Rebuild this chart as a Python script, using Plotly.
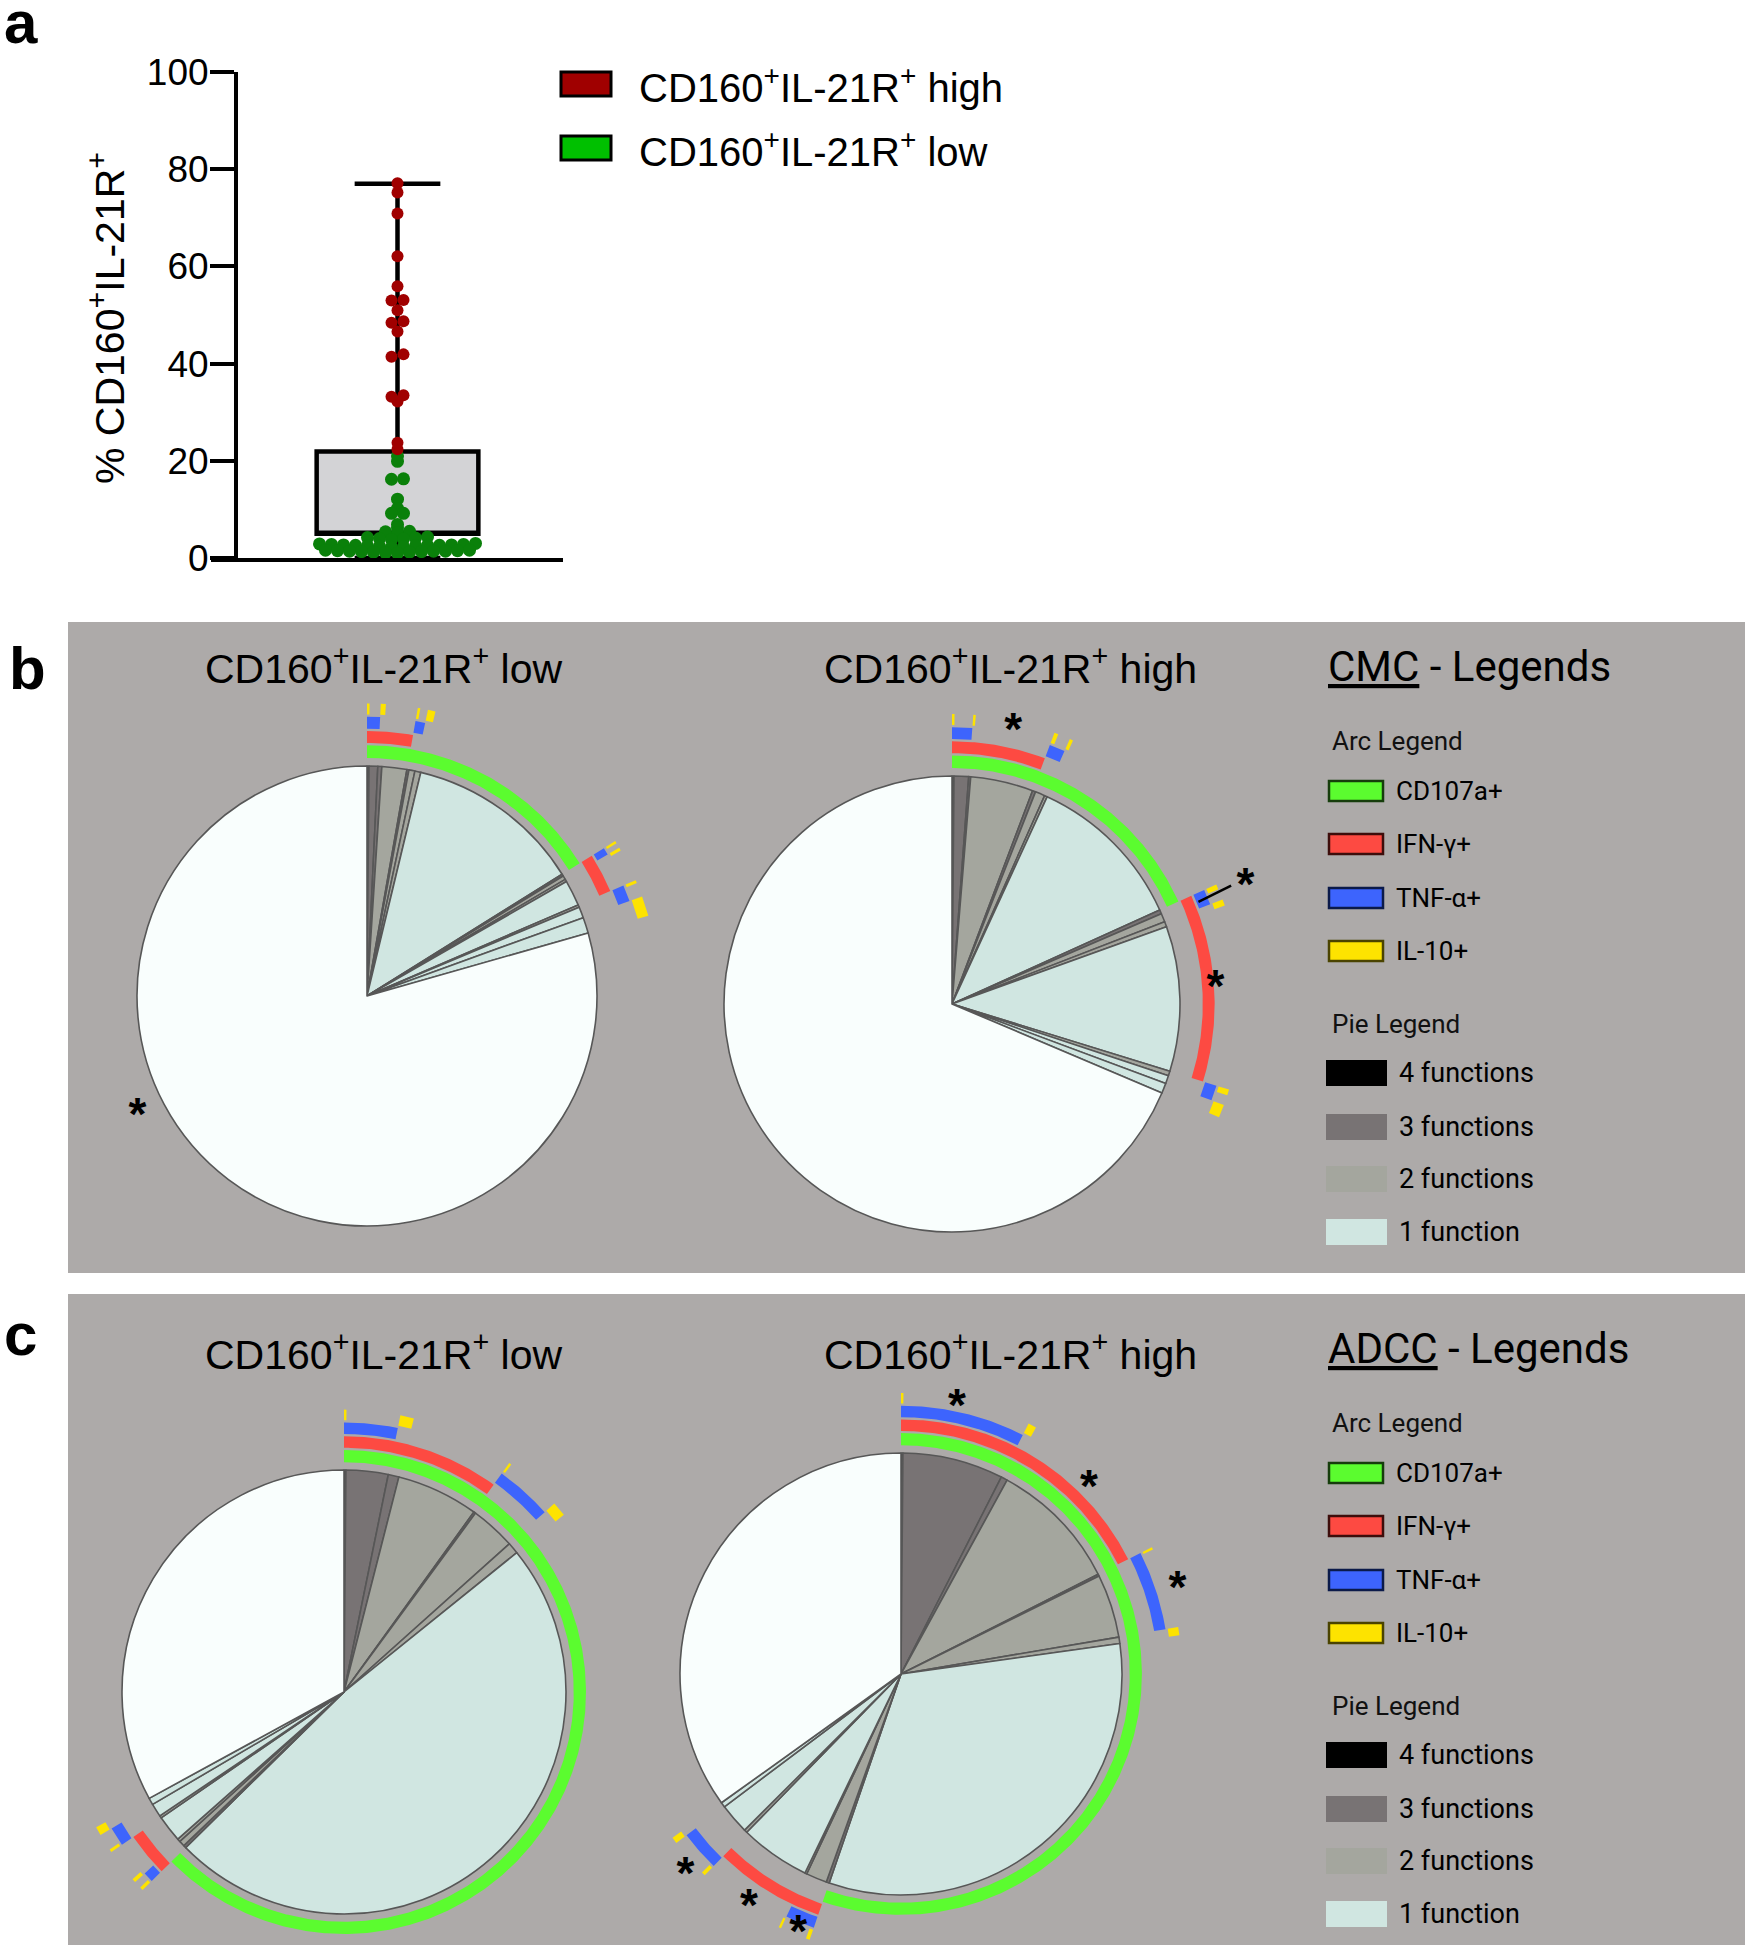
import numpy as np
import plotly.graph_objects as go

W, H = 1750, 1950

# ---------------- data: panel a ----------------
high_values = [77.1, 75.2, 70.9, 62.1, 55.9, 53.1, 53.0, 51.0, 48.4, 48.7, 46.6,
               41.4, 41.9, 33.2, 33.5, 32.2, 23.7, 22.4]
low_values = [21.0, 19.9, 16.3, 16.2, 12.1, 10.2, 9.2, 9.2, 6.9, 6.2, 5.5, 5.4, 5.2,
              4.3, 4.2, 4.1, 4.0, 3.9, 3.8,
              3.0, 2.9, 2.8, 2.8, 2.7, 2.7, 2.6, 2.6, 2.6, 2.5, 2.5, 2.4, 2.3, 2.2,
              1.6, 1.6, 1.5, 1.5, 1.4, 1.4, 1.4, 1.3, 1.3, 1.2, 1.2, 1.1, 1.0]
box_q1, box_median, box_q3 = 5.0, 5.1, 21.9
box_min, box_max = 0.0, 77.0
y_ticks = [0, 20, 40, 60, 80, 100]
group_labels = ["CD160<sup>+</sup>IL-21R<sup>+</sup> high",
                "CD160<sup>+</sup>IL-21R<sup>+</sup> low"]

# ---------------- data: SPICE pies ----------------
functions = ["CD107a+", "IFN-γ+", "TNF-α+", "IL-10+"]
# combinations (CD107a, IFN-g, TNF-a, IL-10) in SPICE order
combos = ["1111", "1110", "1101", "1100", "1011", "1010", "1001", "1000",
          "0111", "0110", "0101", "0100", "0011", "0010", "0001", "0000"]
cmc_low = [0.14, 0.61, 0.28, 1.75, 0.14, 0.42, 0.42, 12.36,
           0.14, 0.28, 0.17, 1.81, 0.17, 0.78, 1.11, 79.42]
cmc_high = [0.14, 1.03, 0.14, 4.44, 0.22, 0.69, 0.19, 11.39,
            0.28, 0.61, 0.36, 10.28, 0.33, 0.56, 0.72, 68.62]
adcc_low = [0.14, 3.06, 0.78, 5.97, 0.14, 3.28, 0.83, 48.44,
            0.19, 0.42, 0.22, 1.94, 0.17, 0.97, 0.50, 32.95]
adcc_high = [0.14, 7.36, 0.47, 9.58, 0.14, 4.64, 0.47, 32.47,
             0.22, 1.53, 0.14, 5.14, 0.22, 2.22, 0.36, 34.90]
pie_titles = ["CD160<sup>+</sup>IL-21R<sup>+</sup> low", "CD160<sup>+</sup>IL-21R<sup>+</sup> high",
              "CD160<sup>+</sup>IL-21R<sup>+</sup> low", "CD160<sup>+</sup>IL-21R<sup>+</sup> high"]
legend_titles = ["CMC", "ADCC"]
pie_legend_labels = ["4 functions", "3 functions", "2 functions", "1 function"]
# significance marks: (pie index, angle deg clockwise from top, radius / pie radius)
star_marks = [(0, 244, 1.11), (1, 12.3, 1.26), (1, 84.9, 1.16), (1, 66.8, 1.40),
              (3, 11.5, 1.27), (3, 44.2, 1.22), (3, 71.4, 1.32),
              (3, 228.1, 1.31), (3, 214.0, 1.23), (3, 202.2, 1.23)]
star_leader = (1, [67.5, 67.0], [1.17, 1.33])

# ---------------- styles ----------------
FONT = "Liberation Sans, Arial, Helvetica, sans-serif"
LFONT = "Roboto, Liberation Sans, Arial, sans-serif"
PANEL_BG = "#adaaa9"
func_colors = ["#5bfc2f", "#fd4a42", "#3d64fd", "#fde300"]
func_borders = ["#163d0c", "#3d0d0b", "#0b1a4a", "#4a4300"]
nfunc_colors = {4: "#000000", 3: "#787374", 2: "#a4a69e", 1: "#d0e6e1", 0: "#f9fefd"}
rings = [(1.035, 1.09), (1.10, 1.152), (1.162, 1.214), (1.224, 1.272)]


def px(x):
    return x / W


def py(y):
    return 1 - y / H


fig = go.Figure()

# ---------------- panel a ----------------
KY = 486.0 / 100.0   # px per y unit
DOT = 13.0
ROW_H = 6.0          # px height of a scatter row
ROW_GAP = 12.0       # px spacing between points sharing a row


def rowscatter(values, ky, rowh, gap):
    """Column-scatter layout: points in the same row are spread symmetrically."""
    vals = np.asarray(values, dtype=float)
    rows = np.round(vals * ky / rowh).astype(int)
    xs = np.zeros(len(vals))
    for r in np.unique(rows):
        idx = np.where(rows == r)[0]
        idx = idx[np.argsort(vals[idx], kind="stable")]
        n = len(idx)
        offs = (np.arange(n) - (n - 1) / 2.0) * gap
        order = np.argsort(np.abs(offs) + 1e-3 * offs, kind="stable")
        for k, j in enumerate(idx):
            xs[j] = offs[order[k]]
    return xs


all_vals = high_values + low_values
xs = rowscatter(all_vals, KY, ROW_H, ROW_GAP)
x_high = xs[:len(high_values)]
x_low = xs[len(high_values):]

fig.add_trace(go.Box(
    x=[0], q1=[box_q1], median=[box_median], q3=[box_q3],
    lowerfence=[box_min], upperfence=[box_max],
    width=161.7, whiskerwidth=0.53, fillcolor="#d3d3d6",
    line=dict(color="black", width=4.5), boxpoints=False,
    xaxis="x", yaxis="y", showlegend=False, hoverinfo="skip"))
fig.add_trace(go.Scatter(
    x=x_low, y=low_values, mode="markers", cliponaxis=False,
    marker=dict(size=DOT, color="#0a800a", line=dict(width=0)),
    xaxis="x", yaxis="y", showlegend=False, hoverinfo="skip"))
fig.add_trace(go.Scatter(
    x=x_high, y=high_values, mode="markers", cliponaxis=False,
    marker=dict(size=DOT - 1, color="#a00000", line=dict(width=0)),
    xaxis="x", yaxis="y", showlegend=False, hoverinfo="skip"))

shapes = []
annotations = []

# panel a legend
for i, (lab, col, yc) in enumerate(zip(group_labels, ["#a00000", "#00c000"], [84, 148])):
    shapes.append(dict(type="rect", xref="paper", yref="paper",
                       x0=px(561), x1=px(611), y0=py(yc - 12), y1=py(yc + 12),
                       fillcolor=col, line=dict(color="black", width=3)))
    annotations.append(dict(text=lab, x=px(637), y=py(yc + 1), xref="paper", yref="paper",
                            xanchor="left", yanchor="middle", showarrow=False,
                            font=dict(family=FONT, size=40, color="black")))

annotations.append(dict(text="% CD160<sup>+</sup>IL-21R<sup>+</sup>", x=px(107), y=py(318),
                        xref="paper", yref="paper", textangle=-90, showarrow=False,
                        xanchor="center", yanchor="middle",
                        font=dict(family=FONT, size=41, color="black")))

# panel letters
for lab, xc, yc in [("a", 21, 22), ("b", 27, 668), ("c", 20, 1334)]:
    annotations.append(dict(text="<b>%s</b>" % lab, x=px(xc), y=py(yc), xref="paper", yref="paper",
                            xanchor="center", yanchor="middle", showarrow=False,
                            font=dict(family=FONT, size=60, color="black")))

# ---------------- panels b / c backgrounds ----------------
for (y0, y1) in [(622, 1273), (1294, 1945)]:
    shapes.append(dict(type="rect", xref="paper", yref="paper", layer="below",
                       x0=px(68), x1=px(1745), y0=py(y1), y1=py(y0),
                       fillcolor=PANEL_BG, line=dict(width=0)))

# ---------------- pies ----------------
pie_data = [cmc_low, cmc_high, adcc_low, adcc_high]
pie_geom = [(367, 996, 230), (952, 1004, 228), (344, 1692, 222), (901, 1674, 221)]
title_pos = [(384, 666), (1010, 666), (384, 1352), (1010, 1352)]

flags = [[c[k] == "1" for k in range(4)] for c in combos]
nfun = [sum(f) for f in flags]

arc_x = [[] for _ in range(4)]
arc_y = [[] for _ in range(4)]

for vals, (cx, cy, R), title, (tx, ty) in zip(pie_data, pie_geom, pie_titles, title_pos):
    fig.add_trace(go.Pie(
        values=vals, labels=combos, sort=False, direction="clockwise", rotation=0,
        marker=dict(colors=[nfunc_colors[n] for n in nfun], line=dict(color="#575757", width=1.6)),
        textinfo="none", hoverinfo="skip", showlegend=False,
        domain=dict(x=[px(cx - R), px(cx + R)], y=[py(cy + R), py(cy - R)])))
    annotations.append(dict(text=title, x=px(tx), y=py(ty), xref="paper", yref="paper",
                            xanchor="center", yanchor="middle", showarrow=False,
                            font=dict(family=FONT, size=41, color="black")))
    tot = float(sum(vals))
    ang = np.concatenate([[0.0], np.cumsum(vals) / tot * 360.0])
    for k in range(4):
        runs = []
        start = None
        for j in range(len(vals)):
            on = flags[j][k] and vals[j] > 0
            if on and start is None:
                start = ang[j]
            if not on and start is not None:
                runs.append((start, ang[j]))
                start = None
        if start is not None:
            runs.append((start, ang[len(vals)]))
        r0, r1 = rings[k][0] * R, rings[k][1] * R
        for a0, a1 in runs:
            n = max(3, int((a1 - a0) * 2) + 2)
            th = np.deg2rad(np.linspace(a0, a1, n))
            xo = cx + r1 * np.sin(th)
            yo = cy - r1 * np.cos(th)
            xi = cx + r0 * np.sin(th[::-1])
            yi = cy - r0 * np.cos(th[::-1])
            arc_x[k] += list(xo) + list(xi) + [xo[0], None]
            arc_y[k] += list(yo) + list(yi) + [yo[0], None]

for k in range(4):
    fig.add_trace(go.Scatter(x=arc_x[k], y=arc_y[k], mode="lines", fill="toself",
                             fillcolor=func_colors[k], line=dict(width=0, color=func_colors[k]),
                             xaxis="x2", yaxis="y2", showlegend=False, hoverinfo="skip"))

# significance marks
STAR = 46
sx, sy = [], []
for (p, a, rr) in star_marks:
    cx, cy, R = pie_geom[p]
    t = np.deg2rad(a)
    sx.append(cx + rr * R * np.sin(t))
    sy.append(cy - rr * R * np.cos(t) + 0.22 * STAR)
fig.add_trace(go.Scatter(x=sx, y=sy, mode="text", text=["<b>*</b>"] * len(sx), cliponaxis=False,
                         textfont=dict(family=FONT, size=STAR, color="black"),
                         xaxis="x2", yaxis="y2", showlegend=False, hoverinfo="skip"))
p, la, lr = star_leader
cx, cy, R = pie_geom[p]
fig.add_trace(go.Scatter(x=[cx + r * R * np.sin(np.deg2rad(a)) for a, r in zip(la, lr)],
                         y=[cy - r * R * np.cos(np.deg2rad(a)) for a, r in zip(la, lr)],
                         mode="lines", line=dict(color="black", width=2.5),
                         xaxis="x2", yaxis="y2", showlegend=False, hoverinfo="skip"))

# ---------------- SPICE legends ----------------
for li, (lt, off) in enumerate(zip(legend_titles, [0, 682])):
    annotations.append(dict(text="<u>%s</u> - Legends" % lt, x=px(1326), y=py(666 + off),
                            xref="paper", yref="paper", xanchor="left", yanchor="middle",
                            showarrow=False, font=dict(family=LFONT, size=42, color="black")))
    annotations.append(dict(text="Arc Legend", x=px(1330), y=py(741 + off),
                            xref="paper", yref="paper", xanchor="left", yanchor="middle",
                            showarrow=False, font=dict(family=LFONT, size=26, color="#111111")))
    for k, yc in enumerate([791, 844, 898, 951]):
        shapes.append(dict(type="rect", xref="paper", yref="paper",
                           x0=px(1329), x1=px(1383), y0=py(yc + off + 10), y1=py(yc + off - 10),
                           fillcolor=func_colors[k], line=dict(color=func_borders[k], width=2.5)))
        annotations.append(dict(text=functions[k], x=px(1394), y=py(yc + off),
                                xref="paper", yref="paper", xanchor="left", yanchor="middle",
                                showarrow=False, font=dict(family=LFONT, size=26, color="black")))
    annotations.append(dict(text="Pie Legend", x=px(1330), y=py(1024 + off),
                            xref="paper", yref="paper", xanchor="left", yanchor="middle",
                            showarrow=False, font=dict(family=LFONT, size=26, color="#111111")))
    for k, yc in enumerate([1073, 1127, 1179, 1232]):
        shapes.append(dict(type="rect", xref="paper", yref="paper",
                           x0=px(1326), x1=px(1387), y0=py(yc + off + 13), y1=py(yc + off - 13),
                           fillcolor=nfunc_colors[4 - k], line=dict(width=0)))
        annotations.append(dict(text=pie_legend_labels[k], x=px(1397), y=py(yc + off),
                                xref="paper", yref="paper", xanchor="left", yanchor="middle",
                                showarrow=False, font=dict(family=LFONT, size=27, color="black")))

fig.update_layout(
    width=W, height=H, margin=dict(l=0, r=0, t=0, b=0, pad=0, autoexpand=False),
    paper_bgcolor="white", plot_bgcolor="rgba(0,0,0,0)",
    showlegend=False, font=dict(family=FONT, color="black"),
    xaxis=dict(domain=[px(211), px(563)], range=[-186.5, 165.5], anchor="y",
               showline=True, linewidth=4, linecolor="black", ticks="",
               showticklabels=False, showgrid=False, zeroline=False, fixedrange=True,
               automargin=False),
    yaxis=dict(domain=[py(558), py(72)], range=[0, 100], anchor="free", position=px(236),
               showline=True, linewidth=4, linecolor="black", ticks="outside",
               ticklen=24, tickwidth=4, tickcolor="black", tickvals=y_ticks,
               ticklabelstandoff=-6,
               tickfont=dict(family=FONT, size=37, color="black"),
               showgrid=False, zeroline=False, fixedrange=True, automargin=False),
    xaxis2=dict(domain=[0, 1], range=[0, W], anchor="y2", visible=False, fixedrange=True,
                automargin=False),
    yaxis2=dict(domain=[0, 1], range=[H, 0], anchor="x2", visible=False, fixedrange=True,
                automargin=False),
    shapes=shapes, annotations=annotations,
)

fig.write_html("out.html", include_plotlyjs=True, config={"staticPlot": True},
               post_script="document.body.style.margin='0';document.body.style.overflow='hidden';")
